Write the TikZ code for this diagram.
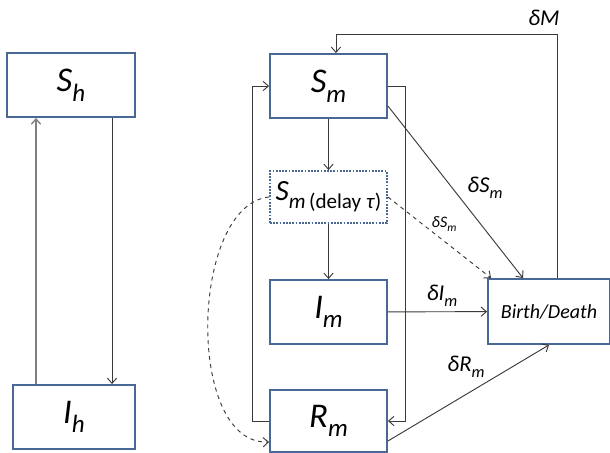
\documentclass[tikz,border=0pt]{standalone}
\usepackage{fontspec}
\setmainfont{Carlito}
\usetikzlibrary{arrows.meta}
\definecolor{boxblue}{HTML}{4A6896}
\definecolor{linegray}{HTML}{3A3A3A}
\newcommand{\lowsub}[1]{\raisebox{-0.28em}{\scalebox{0.72}{#1}}}
\tikzset{
  compbox/.style={draw=boxblue, line width=1.4pt, inner sep=0pt,
    minimum width=87.75pt, minimum height=48pt,
    font=\fontsize{26}{30}\selectfont\itshape},
  flow/.style={draw=linegray, line width=0.7pt, ->},
  ratelbl/.style={font=\fontsize{17}{20}\selectfont\itshape, inner sep=0pt}
}
\begin{document}
\begin{tikzpicture}[x=0.75pt, y=-0.75pt, >={Straight Barb[length=4pt,width=7pt]}]
\useasboundingbox (0,0) rectangle (610,453);
% host
\node[compbox, minimum width=96pt] (sh) at (71,85) {S\lowsub{h}};
\node[compbox, minimum width=91.5pt] (ih) at (74,417) {I\lowsub{h}};
\coordinate (hl) at (36,0);
\coordinate (hr) at (112,0);
\draw[flow, line width=1pt, draw=gray] (ih.north -| hl) -- (sh.south -| hl);
\draw[flow] (sh.south -| hr) -- (ih.north -| hr);
% mosquito
\node[compbox] (sm) at (328.5,86) {S\lowsub{m}};
\node[compbox, densely dotted, minimum height=39pt, font=\fontsize{22}{26}\selectfont\itshape] (sd) at (328.5,197)
  {S\lowsub{m\,{\upshape (delay \textit{τ})}}};
\node[compbox] (im) at (328.5,312) {I\lowsub{m}};
\node[compbox, minimum height=46.5pt] (rm) at (328.5,421) {R\lowsub{m}};
\node[compbox, minimum width=91.5pt, minimum height=48.75pt, font=\fontsize{15}{18}\selectfont\itshape] (bd) at (549,311.5) {Birth/Death};
\draw[flow] (sm) -- (sd);
\draw[flow] (sd) -- (im);
\draw[flow] (im) -- (bd);
\draw[flow] (rm.west) -- ++(-17,0) |- (sm.west);
\draw[flow] (sm.east) -- ++(18,0) |- (rm.east);
\coordinate (dm) at (557,34);
\draw[flow] (bd.north -| dm) -- (dm) -| ([xshift=5.6pt]sm.north);
\draw[flow] ([yshift=-15pt]sm.east) -- ([xshift=-19.5pt]bd.north);
\draw[flow, dashed] (sd.east) -- ([xshift=3pt]bd.north west);
\draw[flow] ([yshift=-15pt]rm.east) -- (bd.south);
\draw[flow, dashed] (sd.west) .. controls (190,205) and (185,445) .. ([yshift=-15.75pt]rm.west);
% rates
\node[ratelbl] (lm) at (544,18) {δM};
\node[ratelbl] (ls) at (485,188) {δS\lowsub{m}};
\node[ratelbl, font=\fontsize{12}{14}\selectfont\itshape] (lsd) at (444,224) {δS\lowsub{m}};
\node[ratelbl] (li) at (442,296) {δI\lowsub{m}};
\node[ratelbl] (lr) at (466,367) {δR\lowsub{m}};
\end{tikzpicture}
\end{document}
